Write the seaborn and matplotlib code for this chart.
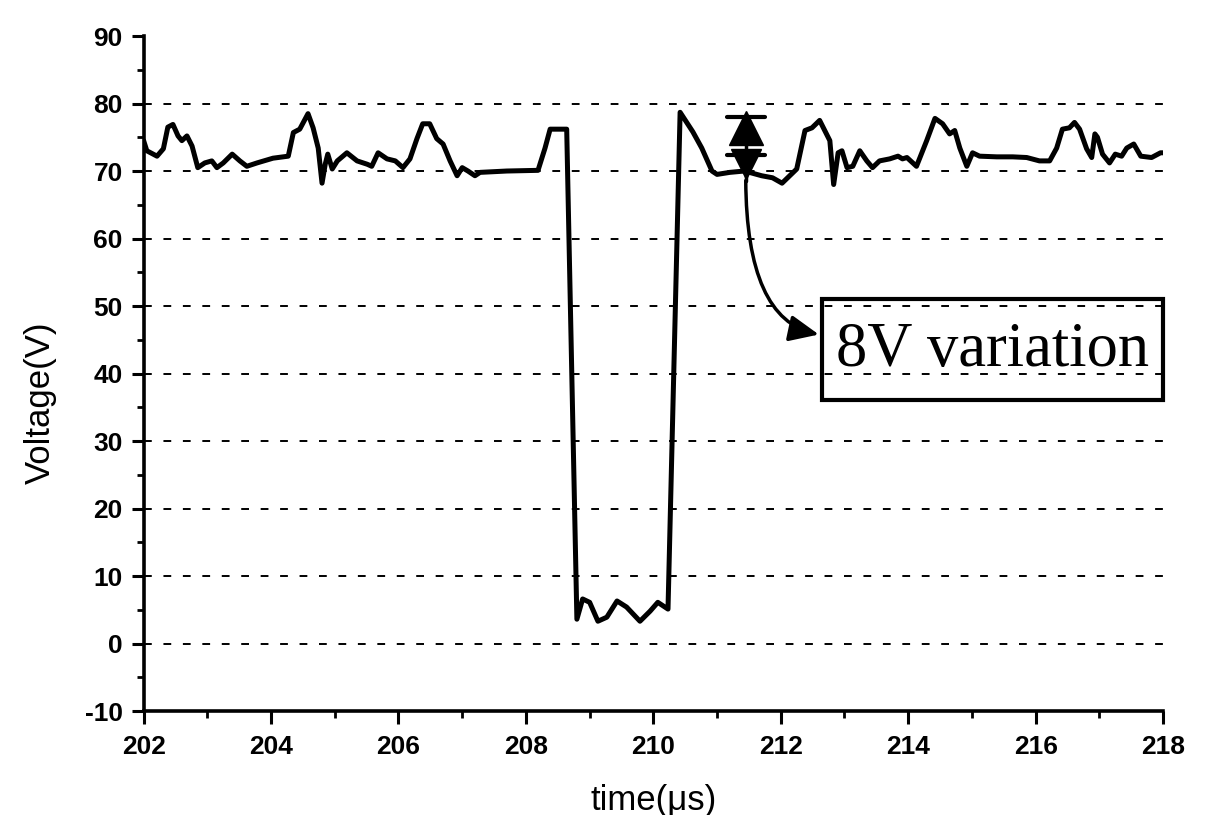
import numpy as np
import pandas as pd
import matplotlib
matplotlib.use("Agg")
import matplotlib.pyplot as plt
import seaborn as sns
from matplotlib.patches import Rectangle
from matplotlib.ticker import MultipleLocator

# Datos (tiempo en us, tension en V)
time_us = [
    202.00, 202.05, 202.21, 202.31, 202.38, 202.46, 202.54, 202.60, 202.68, 202.76,
    202.85, 202.96, 203.07, 203.15, 203.25, 203.39, 203.51, 203.62, 203.78, 204.03,
    204.27, 204.35, 204.45, 204.58, 204.66, 204.74, 204.80, 204.85, 204.89, 204.96,
    205.04, 205.19, 205.35, 205.51, 205.58, 205.68, 205.82, 205.95, 206.07, 206.18,
    206.29, 206.38, 206.49, 206.60, 206.70, 206.81, 206.92, 207.00, 207.09, 207.20,
    207.28, 207.70, 208.19, 208.30, 208.38, 208.54, 208.64,
    208.80, 208.89, 209.00, 209.13, 209.27, 209.43, 209.58, 209.79, 209.95, 210.07, 210.23,
    210.42, 210.62, 210.76, 210.92, 211.00, 211.20, 211.43, 211.70, 211.87, 212.02,
    212.14, 212.25, 212.38, 212.49, 212.61, 212.69, 212.77, 212.83, 212.90, 212.96,
    213.04, 213.13, 213.24, 213.35, 213.44, 213.55, 213.71, 213.84, 213.91, 213.98,
    214.13, 214.29, 214.42, 214.54, 214.65, 214.73, 214.81, 214.92, 215.01, 215.12,
    215.39, 215.64, 215.86, 216.06, 216.22, 216.33, 216.42, 216.53, 216.61, 216.69,
    216.80, 216.88, 216.93, 216.97, 217.05, 217.16, 217.25, 217.35, 217.43, 217.54,
    217.65, 217.82, 217.96, 218.05,
]
voltage = [
    74.5, 73.0, 72.2, 73.3, 76.5, 76.9, 75.2, 74.5, 75.2, 73.7,
    70.5, 71.2, 71.5, 70.5, 71.2, 72.5, 71.5, 70.7, 71.2, 71.9,
    72.2, 75.7, 76.2, 78.5, 76.4, 73.4, 68.2, 71.0, 72.5, 70.3,
    71.5, 72.7, 71.5, 71.0, 70.7, 72.7, 71.8, 71.5, 70.5, 71.8,
    74.8, 77.0, 77.0, 74.8, 74.0, 71.5, 69.3, 70.5, 70.0, 69.3,
    69.8, 70.0, 70.1, 73.4, 76.2, 76.2, 76.2,
    3.6, 6.6, 6.1, 3.3, 3.9, 6.3, 5.4, 3.3, 4.8, 6.1, 5.1,
    78.7, 75.8, 73.4, 70.0, 69.5, 69.8, 70.0, 69.3, 69.0, 68.2,
    69.3, 70.3, 76.0, 76.4, 77.5, 76.0, 74.5, 68.0, 72.7, 73.0,
    70.5, 70.7, 73.0, 71.5, 70.5, 71.5, 71.8, 72.2, 71.8, 72.0,
    70.7, 74.5, 77.8, 77.0, 75.5, 76.0, 73.4, 70.7, 72.7, 72.2,
    72.1, 72.1, 72.0, 71.5, 71.5, 73.4, 76.2, 76.4, 77.2, 76.2,
    73.3, 72.0, 75.5, 75.0, 72.5, 71.2, 72.5, 72.2, 73.4, 74.0,
    72.2, 72.0, 72.7, 72.7,
]
x_ticks = [202, 204, 206, 208, 210, 212, 214, 216, 218]
y_ticks = [-10, 0, 10, 20, 30, 40, 50, 60, 70, 80, 90]

# Marca de variacion de 8V
var_x = 211.45
var_top = 78.0
var_bottom = 70.0

df = pd.DataFrame({"time": time_us, "voltage": voltage})

sns.set_style("white")
plt.rcParams['font.family'] = ['Liberation Sans', 'DejaVu Sans']
plt.rcParams['axes.unicode_minus'] = False
plt.rcParams['text.color'] = 'black'
plt.rcParams['axes.labelcolor'] = 'black'
plt.rcParams['xtick.color'] = 'black'
plt.rcParams['ytick.color'] = 'black'

fig = plt.figure(figsize=(12.07, 8.15), dpi=100)
ax = fig.add_axes([0.119, 0.1276, 0.8446, 0.8282])

sns.lineplot(data=df, x="time", y="voltage", sort=False, color="black",
             linewidth=3.6, ax=ax)

ax.set_xlim(202, 218)
ax.set_ylim(-10, 90)
ax.set_xticks(x_ticks)
ax.set_yticks(y_ticks)
ax.xaxis.set_minor_locator(MultipleLocator(1))
ax.yaxis.set_minor_locator(MultipleLocator(5))
ax.tick_params(axis="both", which="both", bottom=True, left=True)
ax.tick_params(axis="both", which="major", direction="out", length=9, width=2.2,
               labelsize=19, color="black", labelcolor="black")
ax.tick_params(axis="both", which="minor", direction="out", length=5, width=2,
               color="black")
ax.tick_params(axis="x", which="major", pad=8)
ax.tick_params(axis="y", which="major", pad=6)
for lab in ax.get_xticklabels() + ax.get_yticklabels():
    lab.set_fontweight("bold")

ax.grid(axis="y", which="major", linestyle=(0, (4, 6)), color="black", linewidth=1.4)
ax.yaxis.get_gridlines()[-1].set_visible(False)

for side in ["top", "right"]:
    ax.spines[side].set_visible(False)
for side in ["left", "bottom"]:
    ax.spines[side].set_linewidth(2.6)
    ax.spines[side].set_color("black")

ax.set_xlabel("time(\u03bcs)", fontsize=25)
ax.set_ylabel("Voltage(V)", fontsize=25)
ax.xaxis.set_label_coords(0.5, -0.108)
ax.yaxis.set_label_coords(-0.085, 0.456)

# Indicador de variacion
ax.plot([var_x, var_x], [var_top, var_bottom - 1.5], color="black", linewidth=2.5)
ax.plot([var_x - 0.3, var_x + 0.3], [var_top, var_top], color="black", linewidth=3)
ax.plot([var_x - 0.3, var_x + 0.3], [var_bottom + 2.3, var_bottom + 2.3], color="black", linewidth=3)
ax.plot([var_x], [var_top - 1.6], marker="^", markersize=24, color="black")
ax.plot([var_x], [var_bottom + 1.0], marker="v", markersize=22, color="black")

ax.annotate("", xy=(212.64, 45.7), xytext=(var_x, var_bottom - 1.0),
            arrowprops=dict(arrowstyle="-|>,head_length=1.8,head_width=0.8",
                            connectionstyle="angle3,angleA=90,angleB=-10",
                            color="black", linewidth=2.5))

ax.add_patch(Rectangle((212.65, 36.1), 218.0 - 212.65, 51.0 - 36.1,
                       fill=False, edgecolor="black", linewidth=3, clip_on=False))
ax.text(215.33, 43.3, "8V variation", fontsize=45, family="Liberation Serif",
        ha="center", va="center")

fig.savefig("out.png", dpi=100)
